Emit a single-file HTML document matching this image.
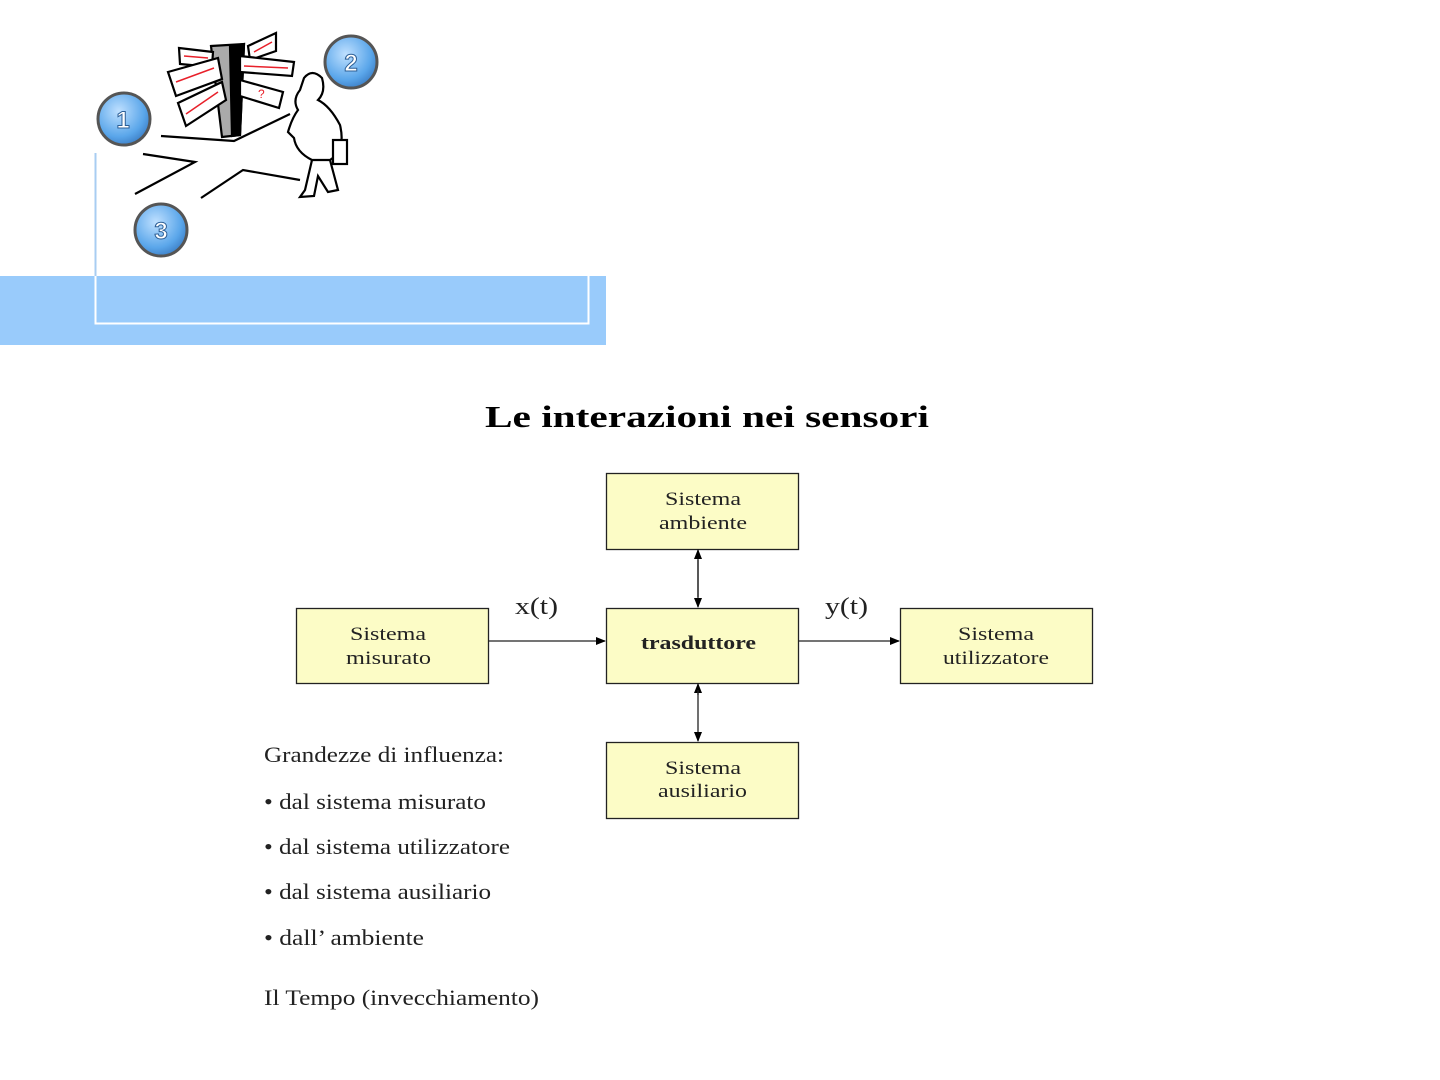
<!DOCTYPE html>
<html><head><meta charset="utf-8"><style>
html,body{margin:0;padding:0;background:#fff;}
svg{display:block;}
</style></head><body>
<svg width="1440" height="1080" viewBox="0 0 1440 1080" xmlns="http://www.w3.org/2000/svg">
<defs>
<radialGradient id="bg" cx="40%" cy="35%" r="70%">
<stop offset="0" stop-color="#bfe0ff"/><stop offset="0.7" stop-color="#5aa6ea"/><stop offset="1" stop-color="#3a7cc4"/>
</radialGradient>
<marker id="ah" markerWidth="10" markerHeight="8" refX="9" refY="4" orient="auto" markerUnits="userSpaceOnUse">
<path d="M0,0 L10,4 L0,8 z" fill="#000"/></marker>
</defs>
<rect x="0" y="276" width="606" height="69" fill="#99cbfb"/>
<path d="M95.5,153 V323.5 H588.5 V276" fill="none" stroke="#fff" stroke-width="2"/>
<line x1="95.5" y1="153" x2="95.5" y2="276" stroke="#a8cdf2" stroke-width="2"/>
<g fill="none" stroke="#000" stroke-width="2.2">
<path d="M161,136 L234,141 L290,114"/>
<path d="M143,154 L195,162 L135,194"/>
<path d="M201,198 L243,170 L300,180"/>
<path d="M211,46 L244,44 L240,135 L222,137 z" fill="#aaa"/>
<path d="M230,46 L244,44 L240,135 L232,136 z" fill="#000"/>
<path d="M179,48 L213,52 L212,67 L180,64 z" fill="#fff"/>
<path d="M168,72 L218,58 L222,79 L176,96 z" fill="#fff"/>
<path d="M178,103 L222,82 L226,100 L186,126 z" fill="#fff"/>
<path d="M248,46 L276,33 L276,51 L250,60 z" fill="#fff"/>
<path d="M240,56 L294,62 L292,76 L240,72 z" fill="#fff"/>
<path d="M240,80 L283,92 L279,108 L240,96 z" fill="#fff"/>
<path d="M304,78 Q312,68 322,78 Q326,92 318,100 Q330,106 340,125 Q346,150 330,160 L312,160 Q296,152 294,138 L288,132 Q292,118 298,110 Q292,100 300,90 z" fill="#fff"/>
<path d="M312,160 L305,190 L300,197 L314,196 L318,176 L328,192 L338,190 L330,160"/>
<rect x="333" y="140" width="14" height="24" fill="#fff"/>
</g>
<g stroke="#e8202a" stroke-width="1.5" fill="none">
<path d="M184,56 L208,58"/><path d="M176,82 L214,68"/><path d="M186,114 L218,92"/>
<path d="M254,52 L272,42"/><path d="M244,66 L288,68"/>
</g>
<text x="258" y="98" font-family="Liberation Sans,sans-serif" font-size="12" fill="#e8202a">?</text>
<g font-family="Liberation Sans,sans-serif" font-weight="bold" font-size="24" fill="#fff" stroke="#2d5f96" stroke-width="1" text-anchor="middle">
<circle cx="124" cy="119" r="26" fill="url(#bg)" stroke="#555" stroke-width="3"/>
<text x="123" y="128">1</text>
<circle cx="351" cy="62" r="26" fill="url(#bg)" stroke="#555" stroke-width="3"/>
<text x="351" y="71">2</text>
<circle cx="161" cy="230" r="26" fill="url(#bg)" stroke="#555" stroke-width="3"/>
<text x="161" y="239">3</text>
</g>
<text x="485" y="427" font-family="Liberation Serif,serif" font-weight="bold" font-size="31" textLength="444" lengthAdjust="spacingAndGlyphs">Le interazioni nei sensori</text>
<g fill="#fcfcc6" stroke="#222" stroke-width="1.3">
<rect x="606.5" y="473.5" width="192" height="76"/>
<rect x="606.5" y="608.5" width="192" height="75"/>
<rect x="296.5" y="608.5" width="192" height="75"/>
<rect x="900.5" y="608.5" width="192" height="75"/>
<rect x="606.5" y="742.5" width="192" height="76"/>
</g>
<g font-family="Liberation Serif,serif" font-size="19" fill="#222">
<text x="665" y="505" textLength="76" lengthAdjust="spacingAndGlyphs">Sistema</text><text x="659" y="529" textLength="88" lengthAdjust="spacingAndGlyphs">ambiente</text>
<text x="350" y="640" textLength="76" lengthAdjust="spacingAndGlyphs">Sistema</text><text x="346" y="664" textLength="85" lengthAdjust="spacingAndGlyphs">misurato</text>
<text x="958" y="640" textLength="76" lengthAdjust="spacingAndGlyphs">Sistema</text><text x="943" y="664" textLength="106" lengthAdjust="spacingAndGlyphs">utilizzatore</text>
<text x="665" y="774" textLength="76" lengthAdjust="spacingAndGlyphs">Sistema</text><text x="658" y="797" textLength="89" lengthAdjust="spacingAndGlyphs">ausiliario</text>
<text x="641" y="649" font-weight="bold" textLength="115" lengthAdjust="spacingAndGlyphs">trasduttore</text>
<text x="515" y="614" font-size="24" textLength="43" lengthAdjust="spacingAndGlyphs">x(t)</text>
<text x="825" y="614" font-size="24" textLength="43" lengthAdjust="spacingAndGlyphs">y(t)</text>
</g>
<g stroke="#222" stroke-width="1.3">
<line x1="489" y1="641" x2="605" y2="641" marker-end="url(#ah)"/>
<line x1="799" y1="641" x2="899" y2="641" marker-end="url(#ah)"/>
<line x1="698" y1="560" x2="698" y2="607" marker-end="url(#ah)"/>
<line x1="698" y1="597" x2="698" y2="550" marker-end="url(#ah)"/>
<line x1="698" y1="695" x2="698" y2="684" marker-end="url(#ah)"/>
<line x1="698" y1="690" x2="698" y2="741" marker-end="url(#ah)"/>
</g>
<g font-family="Liberation Serif,serif" font-size="22" fill="#222">
<text x="264" y="762" textLength="240" lengthAdjust="spacingAndGlyphs">Grandezze di influenza:</text>
<text x="264" y="809" textLength="222" lengthAdjust="spacingAndGlyphs">• dal sistema misurato</text>
<text x="264" y="854" textLength="246" lengthAdjust="spacingAndGlyphs">• dal sistema utilizzatore</text>
<text x="264" y="899" textLength="227" lengthAdjust="spacingAndGlyphs">• dal sistema ausiliario</text>
<text x="264" y="945" textLength="160" lengthAdjust="spacingAndGlyphs">• dall’ ambiente</text>
<text x="264" y="1005" textLength="275" lengthAdjust="spacingAndGlyphs">Il Tempo (invecchiamento)</text>
</g>
</svg>
</body></html>
